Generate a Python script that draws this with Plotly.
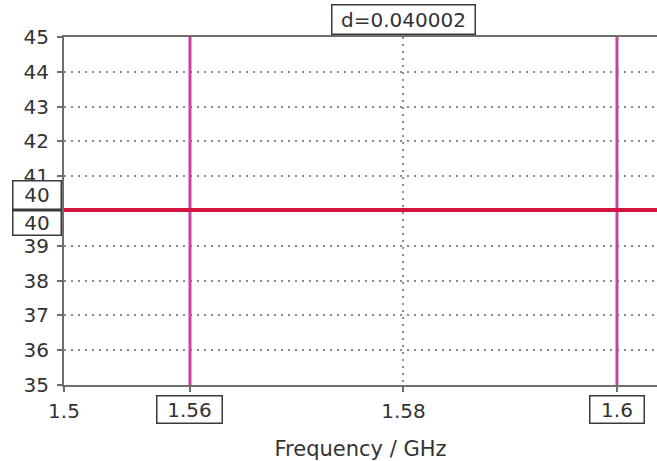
import plotly.graph_objects as go

# Data
x_range = [1.5482, 1.60375]          # visible frequency window (GHz)
level = 40.03                         # horizontal trace value
markers = [1.56, 1.600002]            # marker positions (GHz)
y_ticks = [35, 36, 37, 38, 39, 40, 41, 42, 43, 44, 45]
y_tick_text = ["35", "36", "37", "38", "39", "", "41", "42", "43", "44", "45"]
x_ticks = [1.5482, 1.56, 1.58, 1.6]
x_tick_text = ["1.5", "", "1.58", ""]

FONT = "DejaVu Sans"
TXT = "#333333"
RED = "#D3143E"
MAG = "#C4449E"
FS = 20

fig = go.Figure()

# marker lines
for m in markers:
    fig.add_trace(go.Scatter(x=[m, m], y=[35, 45], mode="lines",
                             line=dict(color=MAG, width=3), hoverinfo="skip",
                             showlegend=False))

# horizontal curve
fig.add_trace(go.Scatter(x=x_range, y=[level, level], mode="lines",
                         line=dict(color=RED, width=4), showlegend=False))

box = dict(bordercolor="#3a3a3a", borderwidth=1.5, bgcolor="white",
           font=dict(family=FONT, size=FS, color=TXT), showarrow=False)

# x marker boxes
fig.add_annotation(x=markers[0], y=35, xref="x", yref="y", yanchor="top",
                   yshift=-10, text=f"{markers[0]:.3g}", width=62, height=24, **box)
fig.add_annotation(x=markers[1], y=35, xref="x", yref="y", yanchor="top",
                   yshift=-10, text=f"{markers[1]:.3g}", width=51, height=24, **box)
# y boxes
fig.add_annotation(x=-0.046, y=level, xref="paper", yref="y", yanchor="bottom",
                   xanchor="center", text=f"{level:.0f}", width=45, height=25, **box)
fig.add_annotation(x=-0.046, y=level, xref="paper", yref="y", yanchor="top",
                   xanchor="center", text=f"{level:.0f}", width=45, height=21, **box)
# delta box
fig.add_annotation(x=(markers[0] + markers[1]) / 2, y=45, xref="x", yref="y",
                   yanchor="bottom", yshift=2, text=f"d={markers[1]-markers[0]:.6f}",
                   width=140, height=26, **box)

axis_common = dict(
    showline=True, linecolor="#6e6e6e", linewidth=2,
    ticks="outside", ticklen=5, tickwidth=2, tickcolor="#6e6e6e",
    showgrid=True, gridcolor="#8a8a8a", gridwidth=1.5, griddash="2px,5px",
    tickfont=dict(family=FONT, size=FS, color=TXT), zeroline=False,
    automargin=False,
)

fig.update_xaxes(range=x_range, tickmode="array", tickvals=x_ticks,
                 ticktext=x_tick_text, mirror=True, ticklabelstandoff=2,
                 title=dict(text="Frequency / GHz", standoff=20,
                            font=dict(family=FONT, size=21, color=TXT)),
                 **axis_common)
fig.update_yaxes(range=[35, 45], tickmode="array", tickvals=y_ticks,
                 ticktext=y_tick_text, ticklabelstandoff=4, **axis_common)

fig.update_layout(width=657, height=461,
                  margin=dict(l=64, r=0, t=37, b=76),
                  plot_bgcolor="white", paper_bgcolor="white",
                  showlegend=False)

# remove the browser's default 8px body margin so the figure fills the window
fig.write_html("out.html", config={"displayModeBar": False},
               post_script="document.body.style.margin='0';document.body.style.overflow='hidden';")
